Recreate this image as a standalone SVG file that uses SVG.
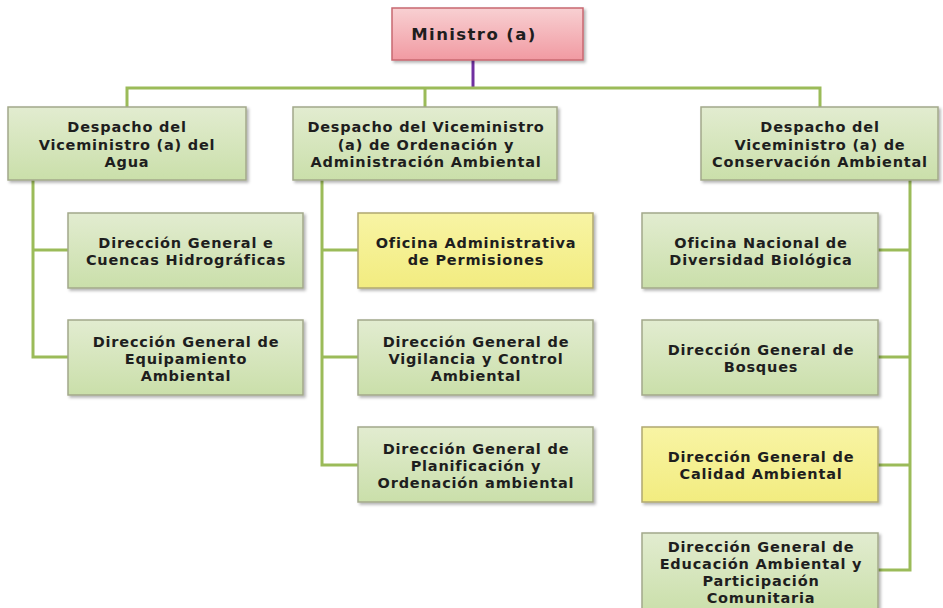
<svg xmlns="http://www.w3.org/2000/svg" width="943" height="608" viewBox="0 0 943 608">
<defs>
<linearGradient id="gGreen" x1="0" y1="0" x2="0" y2="1">
<stop offset="0" stop-color="#e2ecd0"/>
<stop offset="1" stop-color="#cadfaa"/>
</linearGradient>
<linearGradient id="gYellow" x1="0" y1="0" x2="0" y2="1">
<stop offset="0" stop-color="#f8f4a4"/>
<stop offset="1" stop-color="#f2ec80"/>
</linearGradient>
<linearGradient id="gPink" x1="0" y1="0" x2="0" y2="1">
<stop offset="0" stop-color="#f8d0d2"/>
<stop offset="1" stop-color="#f19aa2"/>
</linearGradient>
<filter id="sh" x="-10%" y="-10%" width="130%" height="140%">
<feDropShadow dx="2" dy="2" stdDeviation="1.5" flood-color="#000" flood-opacity="0.3"/>
</filter>
</defs>
<style>
.g{fill:url(#gGreen);stroke:#a3a88a;stroke-width:1.5;filter:url(#sh)}
.y{fill:url(#gYellow);stroke:#b0a870;stroke-width:1.5;filter:url(#sh)}
.p{fill:url(#gPink);stroke:#c86870;stroke-width:1.5;filter:url(#sh)}
text{font-family:"DejaVu Sans","Liberation Sans",sans-serif;font-weight:bold;font-size:14.5px;letter-spacing:0.8px;fill:#1e1e1e;text-anchor:middle}
.c{fill:none;stroke:#9bbb59;stroke-width:3}
.pc{fill:none;stroke:#7030a0;stroke-width:3}
</style>
<rect width="943" height="608" fill="#ffffff"/>
<g id="connectors">
<path class="pc" d="M473 60V88"/>
<path class="c" d="M127 107V88H820V107M425 88V107"/>
<path class="c" d="M33 180V357H68M33 250H68"/>
<path class="c" d="M322 180V465H358M322 250H358M322 357H358"/>
<path class="c" d="M910 180V570H878M910 250H878M910 357H878M910 465H878"/>
</g>
<g id="ministro">
<rect class="p" x="392" y="8" width="191" height="52"/>
<text x="474" y="40" style="font-size:16.5px;letter-spacing:1.4px">Ministro (a)</text>
</g>
<g id="vm-agua">
<rect class="g" x="8" y="107" width="238" height="73"/>
<text x="127" y="132">Despacho del</text>
<text x="127" y="150">Viceministro (a) del</text>
<text x="127" y="167">Agua</text>
</g>
<g id="vm-ordenacion">
<rect class="g" x="293" y="107" width="264" height="73"/>
<text x="426" y="132">Despacho del Viceministro</text>
<text x="426" y="150">(a) de Ordenación y</text>
<text x="426" y="167">Administración Ambiental</text>
</g>
<g id="vm-conservacion">
<rect class="g" x="701" y="107" width="237" height="73"/>
<text x="820" y="132">Despacho del</text>
<text x="820" y="150">Viceministro (a) de</text>
<text x="820" y="167">Conservación Ambiental</text>
</g>
<g id="dg-cuencas">
<rect class="g" x="68" y="213" width="235" height="75"/>
<text x="186" y="248">Dirección General e</text>
<text x="186" y="265">Cuencas Hidrográficas</text>
</g>
<g id="dg-equipamiento">
<rect class="g" x="68" y="320" width="235" height="75"/>
<text x="186" y="347">Dirección General de</text>
<text x="186" y="364">Equipamiento</text>
<text x="186" y="381">Ambiental</text>
</g>
<g id="of-permisiones">
<rect class="y" x="358" y="213" width="235" height="75"/>
<text x="476" y="248">Oficina Administrativa</text>
<text x="476" y="265">de Permisiones</text>
</g>
<g id="dg-vigilancia">
<rect class="g" x="358" y="320" width="235" height="75"/>
<text x="476" y="347">Dirección General de</text>
<text x="476" y="364">Vigilancia y Control</text>
<text x="476" y="381">Ambiental</text>
</g>
<g id="dg-planificacion">
<rect class="g" x="358" y="427" width="235" height="75"/>
<text x="476" y="454">Dirección General de</text>
<text x="476" y="471">Planificación y</text>
<text x="476" y="488">Ordenación ambiental</text>
</g>
<g id="of-diversidad">
<rect class="g" x="642" y="213" width="236" height="75"/>
<text x="761" y="248">Oficina Nacional de</text>
<text x="761" y="265">Diversidad Biológica</text>
</g>
<g id="dg-bosques">
<rect class="g" x="642" y="320" width="236" height="75"/>
<text x="761" y="355">Dirección General de</text>
<text x="761" y="372">Bosques</text>
</g>
<g id="dg-calidad">
<rect class="y" x="642" y="427" width="236" height="75"/>
<text x="761" y="462">Dirección General de</text>
<text x="761" y="479">Calidad Ambiental</text>
</g>
<g id="dg-educacion">
<rect class="g" x="642" y="533" width="236" height="80"/>
<text x="761" y="552">Dirección General de</text>
<text x="761" y="569">Educación Ambiental y</text>
<text x="761" y="586">Participación</text>
<text x="761" y="603">Comunitaria</text>
</g>
</svg>
